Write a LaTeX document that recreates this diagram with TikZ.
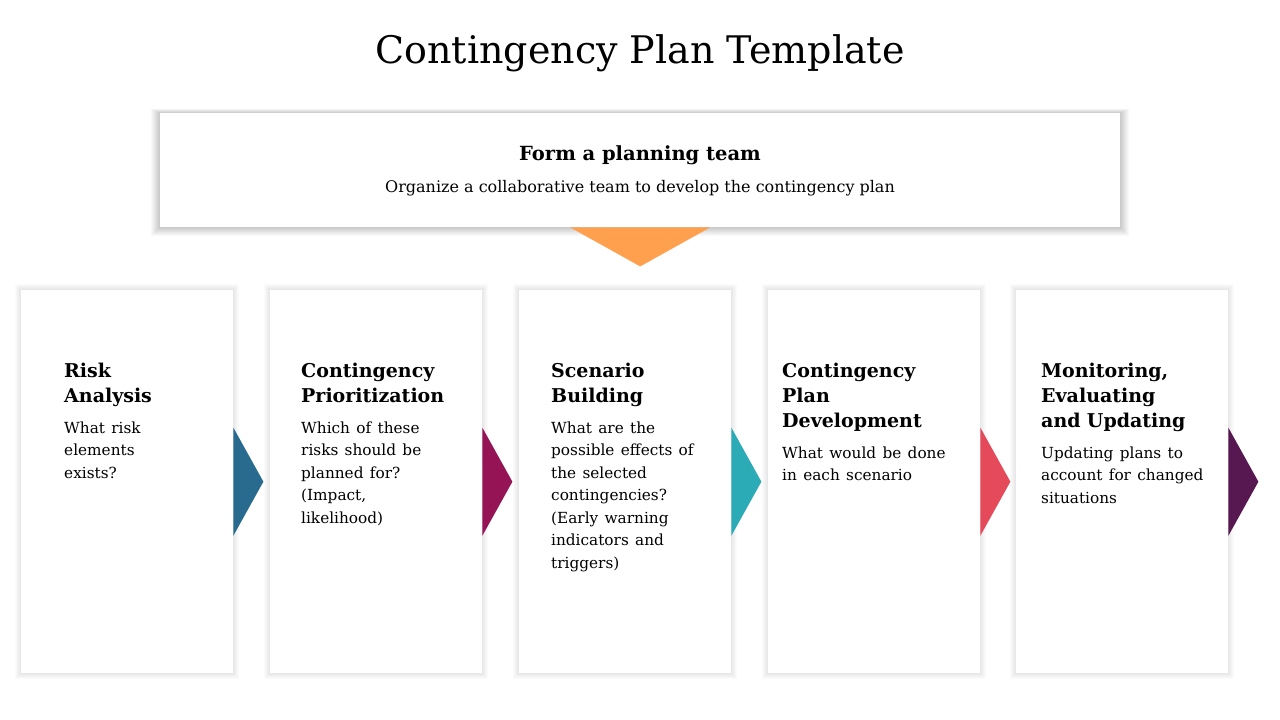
\documentclass[tikz,border=0pt]{standalone}
\usepackage{fontspec}
\setmainfont{DejaVu Serif}
\usepackage{tikz}
\usetikzlibrary{calc,backgrounds}

\definecolor{stepblue}{HTML}{286B8F}
\definecolor{stepwine}{HTML}{951456}
\definecolor{stepteal}{HTML}{2BABB6}
\definecolor{stepred}{HTML}{E44A59}
\definecolor{steppurple}{HTML}{571852}
\definecolor{teamorange}{HTML}{FFA04F}

\tikzset{
  card/.style={fill=white, minimum width=212pt, minimum height=383pt, inner sep=0pt, anchor=north west},
  cardtext/.style={anchor=north west, inner sep=0pt, text width=200pt, align=left},
  head/.style={font=\fontsize{19}{25}\selectfont\bfseries},
}
\newcommand{\cardbody}[1]{\par\vspace{8pt}{\fontsize{15.3}{22.5}\selectfont\mdseries #1\par}}

\begin{document}
\begin{tikzpicture}[x=1pt, y=-1pt]
\useasboundingbox (0,0) rectangle (1280,720);

% title
\node (title) at (640,53) {\fontsize{38}{44}\selectfont Contingency Plan Template};

% planning team
\node[fill=white, minimum width=960pt, minimum height=114pt, inner sep=0pt, anchor=north west] (team) at (160,113) {};
\fill[teamorange] ($(team.south)+(-70,0)$) -- ($(team.south)+(70,0)$) -- ($(team.south)+(0,39)$) -- cycle;
\node[font=\fontsize{19.5}{24}\selectfont\bfseries] (teamhead) at (640,155) {Form a planning team};
\node[font=\fontsize{16}{20}\selectfont] (teambody) at (640,188) {Organize a collaborative team to develop the contingency plan};

% cards
\node[card] (risk) at (21,290) {};
\node[card] (prio) at (270,290) {};
\node[card] (scen) at (519,290) {};
\node[card] (devel) at (768,290) {};
\node[card] (monit) at (1016,290) {};

% chevrons
\foreach \c/\col in {risk/stepblue, prio/stepwine, scen/stepteal, devel/stepred, monit/steppurple}
  \fill[\col] ($(\c.east)+(0,-54)$) -- ($(\c.east)+(30,0)$) -- ($(\c.east)+(0,54)$) -- cycle;

% soft shadows
\begin{scope}[on background layer]
  \fill[white] (0,0) rectangle (1280,720);
  \foreach \k in {1,...,9}
    \fill[black, opacity=0.022] ($(team.north west)+(-\k,-\k/2)$) rectangle ($(team.south east)+(\k,\k)$);
  \foreach \n in {risk,prio,scen,devel,monit}
    \foreach \k in {1,...,6}
      \fill[black, opacity=0.016] ($(\n.north west)+(-\k,-\k)$) rectangle ($(\n.south east)+(\k,\k)$);
\end{scope}

% texts
\node[cardtext, head] (risktext) at (64,363) {Risk\\Analysis\cardbody{What risk\\elements\\exists?}};
\node[cardtext, head] (priotext) at (301,363) {Contingency\\Prioritization\cardbody{Which of these\\risks should be\\planned for?\\(Impact,\\likelihood)}};
\node[cardtext, head] (scentext) at (551,363) {Scenario\\Building\cardbody{What are the\\possible effects of\\the selected\\contingencies?\\(Early warning\\indicators and\\triggers)}};
\node[cardtext, head] (develtext) at (782,363) {Contingency\\Plan\\Development\cardbody{What would be done\\in each scenario}};
\node[cardtext, head] (monittext) at (1041,363) {Monitoring,\\Evaluating\\and Updating\cardbody{Updating plans to\\account for changed\\situations}};

\end{tikzpicture}
\end{document}
